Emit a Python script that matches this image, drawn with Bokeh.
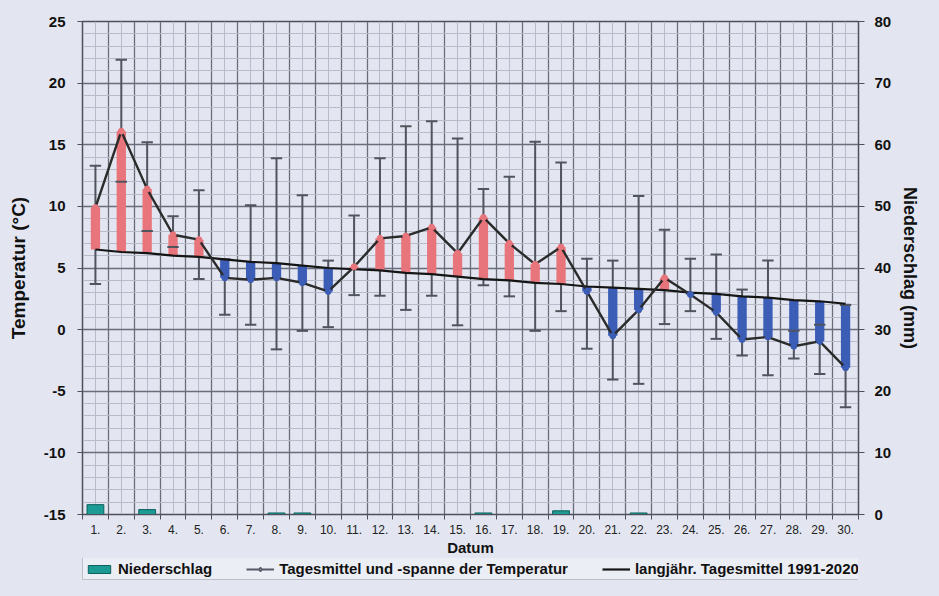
from bokeh.plotting import figure
from bokeh.layouts import column
from bokeh.models import (Range1d, LinearAxis, FixedTicker, SingleIntervalTicker,
                          Legend, LegendItem, ColumnDataSource)
from bokeh.embed import file_html
from bokeh.resources import INLINE

# ---------------- data ----------------
days = [1, 2, 3, 4, 5, 6, 7, 8, 9, 10, 11, 12, 13, 14, 15,
        16, 17, 18, 19, 20, 21, 22, 23, 24, 25, 26, 27, 28, 29, 30]
day_labels = ["1.", "2.", "3.", "4.", "5.", "6.", "7.", "8.", "9.", "10.",
              "11.", "12.", "13.", "14.", "15.", "16.", "17.", "18.", "19.", "20.",
              "21.", "22.", "23.", "24.", "25.", "26.", "27.", "28.", "29.", "30."]
t_mean = [9.9, 16.1, 11.4, 7.7, 7.3, 4.2, 4.05, 4.2, 3.8, 3.1,
          5.1, 7.4, 7.6, 8.3, 6.2, 9.1, 7.0, 5.3, 6.7, 3.1,
          -0.5, 1.6, 4.2, 2.85, 1.4, -0.8, -0.6, -1.35, -0.95, -3.1]
t_max = [13.3, 21.9, 15.2, 9.2, 11.3, 5.7, 10.1, 13.9, 10.9, 5.6,
         9.25, 13.9, 16.5, 16.9, 15.5, 11.4, 12.4, 15.25, 13.55, 5.75,
         5.6, 10.85, 8.1, 5.75, 6.1, 3.25, 5.6, -0.1, 0.4, 2.0]
t_min = [3.7, 12.0, 8.0, 6.7, 4.1, 1.2, 0.4, -1.6, -0.1, 0.2,
         2.8, 2.75, 1.6, 2.75, 0.35, 3.6, 2.7, -0.1, 1.5, -1.55,
         -4.05, -4.4, 0.45, 1.5, -0.75, -2.1, -3.7, -2.35, -3.6, -6.3]
t_clim = [6.5, 6.3, 6.2, 6.0, 5.9, 5.7, 5.5, 5.4, 5.2, 5.0,
          4.9, 4.8, 4.6, 4.5, 4.3, 4.1, 4.0, 3.8, 3.7, 3.5,
          3.4, 3.3, 3.2, 3.0, 2.9, 2.7, 2.6, 2.4, 2.3, 2.1]
precip = [1.6, 0.0, 0.8, 0.0, 0.0, 0.0, 0.0, 0.25, 0.25, 0.0,
          0.0, 0.0, 0.0, 0.0, 0.0, 0.25, 0.0, 0.0, 0.6, 0.0,
          0.0, 0.25, 0.0, 0.0, 0.0, 0.0, 0.0, 0.0, 0.0, 0.0]

temp_ticks = [-15, -10, -5, 0, 5, 10, 15, 20, 25]
temp_labels = ["-15", "-10", "-5", "0", "5", "10", "15", "20", "25"]
prec_ticks = [0, 10, 20, 30, 40, 50, 60, 70, 80]

# ---------------- styles ----------------
BG = "#e3e6f0"
RED = "#e8757b"
BLUE = "#3c5db5"
TEAL = "#1c9a94"
GRID_DARK = "#6a6e7b"
GRID_LIGHT = "#b7bbcb"
ERR = "#50545e"
AXC = "#4d505a"
FONT = "Liberation Sans"

colors = [RED if m >= c else BLUE for m, c in zip(t_mean, t_clim)]
src = ColumnDataSource(dict(day=days, mean=t_mean, tmax=t_max, tmin=t_min,
                            clim=t_clim, prec=precip, color=colors))

p = figure(width=923, height=558, output_backend="svg", toolbar_location=None,
           x_range=Range1d(0.5, 30.5), y_range=Range1d(-15, 25),
           min_border_left=82, min_border_right=59, min_border_top=21,
           min_border_bottom=44)
p.background_fill_color = BG
p.border_fill_color = BG
p.outline_line_color = AXC
p.outline_line_width = 1.5

p.extra_y_ranges = {"prec": Range1d(0, 80)}

# grids
boundaries = [d - 0.5 for d in days] + [days[-1] + 0.5]
p.xgrid.ticker = FixedTicker(ticks=boundaries, minor_ticks=days)
p.xgrid.grid_line_color = GRID_DARK
p.xgrid.grid_line_width = 1.3
p.xgrid.minor_grid_line_color = GRID_LIGHT
p.xgrid.minor_grid_line_width = 1.0
p.ygrid.ticker = SingleIntervalTicker(interval=5, num_minor_ticks=5)
p.ygrid.grid_line_color = GRID_DARK
p.ygrid.grid_line_width = 1.3
p.ygrid.minor_grid_line_color = GRID_LIGHT
p.ygrid.minor_grid_line_width = 1.0

# x axis
xa = p.xaxis[0]
xa.ticker = FixedTicker(ticks=days, minor_ticks=boundaries)
xa.major_label_overrides = {d: l for d, l in zip(days, day_labels)}
xa.major_tick_line_color = None
xa.major_tick_out = 0
xa.minor_tick_out = 5
xa.minor_tick_in = 0
xa.minor_tick_line_color = AXC
xa.axis_line_color = AXC
xa.major_label_text_font = FONT
xa.major_label_text_font_size = "12px"
xa.major_label_text_color = "#222222"
xa.major_label_standoff = 5
xa.axis_label = "Datum"
xa.axis_label_text_font = FONT
xa.axis_label_text_font_style = "bold"
xa.axis_label_text_font_size = "15px"
xa.axis_label_text_color = "#111111"
xa.axis_label_standoff = 2

# left axis
ya = p.yaxis[0]
ya.ticker = FixedTicker(ticks=temp_ticks)
ya.major_label_overrides = {t: l for t, l in zip(temp_ticks, temp_labels)}
ya.minor_tick_line_color = None
ya.major_tick_out = 5
ya.major_tick_in = 0
ya.major_tick_line_color = AXC
ya.axis_line_color = AXC
ya.major_label_text_font = FONT
ya.major_label_text_font_style = "bold"
ya.major_label_text_font_size = "15px"
ya.major_label_text_color = "#111111"
ya.major_label_standoff = 12
ya.axis_label = "Temperatur (°C)"
ya.axis_label_text_font = FONT
ya.axis_label_text_font_style = "bold"
ya.axis_label_text_font_size = "19px"
ya.axis_label_text_color = "#111111"
ya.axis_label_standoff = 12

# right axis
ra = LinearAxis(y_range_name="prec", ticker=FixedTicker(ticks=prec_ticks))
ra.minor_tick_line_color = None
ra.major_tick_out = 6
ra.major_tick_in = 0
ra.major_tick_line_color = AXC
ra.axis_line_color = AXC
ra.major_label_text_font = FONT
ra.major_label_text_font_style = "bold"
ra.major_label_text_font_size = "15px"
ra.major_label_text_color = "#111111"
ra.major_label_standoff = 10
ra.axis_label = "Niederschlag (mm)"
ra.axis_label_text_font = FONT
ra.axis_label_text_font_style = "bold"
ra.axis_label_text_font_size = "18px"
ra.axis_label_text_color = "#111111"
ra.axis_label_standoff = 6
p.add_layout(ra, "right")

# precipitation bars
p.vbar(x="day", top="prec", bottom=0, width=0.65, source=src,
       y_range_name="prec", fill_color=TEAL, line_color="#0d625e", line_width=1)

# error bar stems (behind the anomaly bars)
p.segment(x0="day", y0="tmin", x1="day", y1="tmax", source=src,
          line_color=ERR, line_width=2)

# anomaly bars between climatology and daily mean
p.vbar(x="day", top="mean", bottom="clim", width=0.36, source=src,
       fill_color="color", line_color="color", line_width=0)

# caps
cap_w = 0.22
src.data["cl"] = [d - cap_w for d in days]
src.data["cr"] = [d + cap_w for d in days]
p.segment(x0="cl", y0="tmax", x1="cr", y1="tmax", source=src,
          line_color=ERR, line_width=2)
p.segment(x0="cl", y0="tmin", x1="cr", y1="tmin", source=src,
          line_color=ERR, line_width=2)

# climatology line
p.line(x="day", y="clim", source=src, line_color="#151515", line_width=2.2)

# daily mean line and points
p.line(x="day", y="mean", source=src, line_color="#2b2b2b", line_width=2.4)
p.scatter(x="day", y="mean", source=src, size=6, fill_color="color",
          line_color="color", marker="circle")

# ---------------- legend strip ----------------
lf = figure(width=923, height=22, output_backend="svg", toolbar_location=None,
            x_range=Range1d(100, 101), y_range=Range1d(100, 101),
            x_axis_location=None, y_axis_location=None, min_border=0)
lf.background_fill_color = BG
lf.border_fill_color = BG
lf.outline_line_color = None
lf.grid.visible = False

r_prec = lf.vbar(x="day", top="prec", bottom=0, width=0.65, source=src,
                 fill_color=TEAL, line_color="#0d625e", line_width=1)
r_mline = lf.line(x="day", y="mean", source=src, line_color="#555a64", line_width=2)
r_mpt = lf.scatter(x="day", y="mean", source=src, marker="diamond", size=10,
                   fill_color="#eceef5", line_color="#555a64", line_width=1.5)
r_clim = lf.line(x="day", y="clim", source=src, line_color="#151515", line_width=2.2)

legend = Legend(items=[
    LegendItem(label="Niederschlag", renderers=[r_prec]),
    LegendItem(label="Tagesmittel und -spanne der Temperatur", renderers=[r_mline, r_mpt]),
    LegendItem(label="langjähr. Tagesmittel 1991-2020", renderers=[r_clim]),
], orientation="horizontal", location=(0, 0))
legend.label_text_font = FONT
legend.label_text_font_style = "bold"
legend.label_text_font_size = "15px"
legend.label_text_color = "#111111"
legend.glyph_width = 28
legend.glyph_height = 10
legend.label_height = 12
legend.padding = 2
legend.margin = 0
legend.spacing = 34
legend.label_standoff = 5
legend.background_fill_color = "#eceef5"
legend.background_fill_alpha = 1
legend.border_line_color = "#8e919c"
legend.border_line_width = 1
lf.add_layout(legend, "center")

layout = column(p, lf, spacing=0)

html = file_html(layout, INLINE)
html = html.replace("</head>", "<style>html,body{background:#e3e6f0;}</style></head>", 1)
open("out.html", "w").write(html)
